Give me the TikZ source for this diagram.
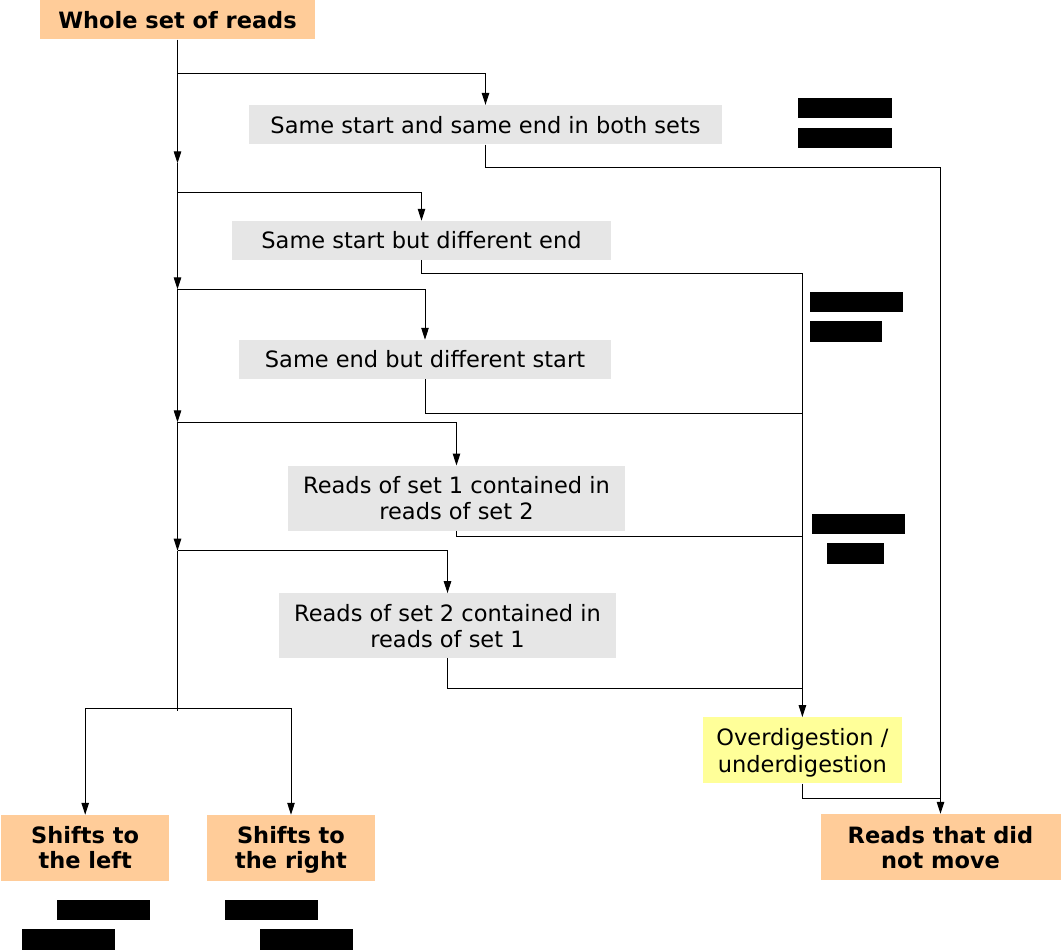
\documentclass[tikz,border=0pt]{standalone}
\usepackage{fontspec}
\setmainfont{DejaVu Sans}
\usetikzlibrary{arrows.meta}
\definecolor{peach}{HTML}{FFCC99}
\definecolor{boxgray}{HTML}{E6E6E6}
\definecolor{paleyellow}{HTML}{FFFF99}
\begin{document}
\begin{tikzpicture}[x=1pt,y=-1pt,
  box/.style={inner sep=0pt, align=center, text height=17.5pt, text depth=0.5pt,
    font=\fontsize{22.5}{26}\selectfont},
  stepgray/.style={box, fill=boxgray},
  result/.style={box, fill=peach, font=\fontsize{22.5}{25}\selectfont\bfseries},
  note/.style={box, fill=paleyellow, font=\fontsize{22.5}{26.5}\selectfont},
  % two-line labels: the text box sits on its last line
  twolines/.style={text height=#1},
  wire/.style={line width=1pt},
  arr/.style={wire, -{Triangle[length=12pt,width=7.5pt]}}
]
\useasboundingbox (0,0) rectangle (1061,950);

% boxes
\node[result, minimum width=275pt, minimum height=39.5pt] (whole) at (177.5,19.7) {Whole set of reads};
\node[stepgray, minimum width=473pt, minimum height=39.3pt] (b2) at (485.5,124.7) {Same start and same end in both sets};
\node[stepgray, minimum width=379pt, minimum height=38.7pt] (b3) at (421.5,240.3) {Same start but different end};
\node[stepgray, minimum width=372pt, minimum height=38.7pt] (b4) at (425,359.3) {Same end but different start};
\node[stepgray, twolines=43.5pt, minimum width=337pt, minimum height=65pt] (b5) at (456.5,498.2) {Reads of set 1 contained in\\reads of set 2};
\node[stepgray, twolines=43.5pt, minimum width=337pt, minimum height=64.4pt] (b6) at (447.5,625.5) {Reads of set 2 contained in\\reads of set 1};
\node[note, twolines=44pt, minimum width=199pt, minimum height=66pt] (over) at (802.4,750.3) {Overdigestion /\\underdigestion};
\node[result, twolines=42.5pt, minimum width=240pt, minimum height=66pt] (still) at (940.5,847) {Reads that did\\not move};
\node[result, twolines=42.5pt, minimum width=168.3pt, minimum height=65.7pt] (left) at (85.2,847.8) {Shifts to\\the left};
\node[result, twolines=42.5pt, minimum width=168.6pt, minimum height=65.7pt] (right) at (291,847.8) {Shifts to\\the right};

% junctions on the main trunk
\coordinate (s1) at (177.5,73.3);
\coordinate (j1) at (177.5,163.3);
\coordinate (s2) at (177.5,192.3);
\coordinate (j2) at (177.5,289.3);
\coordinate (j3) at (177.5,422.3);
\coordinate (j4) at (177.5,550.7);
\coordinate (j5) at (177.5,708.3);
\coordinate (jend) at (177.5,710.7);

% main trunk
\draw[arr] (whole.south) -- (j1);
\draw[arr] (j1) -- (j2);
\draw[arr] (j2) -- (j3);
\draw[arr] (j3) -- (j4);
\draw[wire] (j4) -- (jend);

% branches into the tests
\draw[arr] (s1) -| (b2.north);
\draw[arr] (s2) -| (b3.north);
\draw[arr] (j2) -| (b4.north);
\draw[arr] (j3) -| (b5.north);
\draw[arr] (j4) -| (b6.north);
\draw[arr] (j5) -| (left.north);
\draw[arr] (j5) -| (right.north);

% collector lines on the right
\coordinate (r1) at (940.5,167.3);
\coordinate (r2) at (940.5,798.3);
\coordinate (m1) at (802.4,273.3);
\coordinate (m2) at (802.4,413.3);
\coordinate (m3) at (802.4,536.3);
\coordinate (m4) at (802.4,688.3);

\draw[wire] (b2.south) |- (r1);
\draw[arr] (r1) -- (still.north);
\draw[wire] (b3.south) |- (m1);
\draw[arr] (m1) -- (over.north);
\draw[wire] (b4.south) |- (m2);
\draw[wire] (b5.south) |- (m3);
\draw[wire] (b6.south) |- (m4);
\draw[wire] (over.south) |- (r2);

% blacked-out labels
\fill (798.4,98) rectangle (891.7,118.3);
\fill (798.4,127.7) rectangle (891.7,147.7);
\fill (809.5,292) rectangle (902.8,312.3);
\fill (809.5,321.3) rectangle (881.7,341.7);
\fill (811.6,514.3) rectangle (904.9,534.3);
\fill (826.5,543.3) rectangle (883.7,563.7);
\fill (57,900) rectangle (150,920.3);
\fill (22,929.3) rectangle (115,949.7);
\fill (225,900) rectangle (317.7,920.3);
\fill (260,929.3) rectangle (352.7,949.7);
\end{tikzpicture}
\end{document}
